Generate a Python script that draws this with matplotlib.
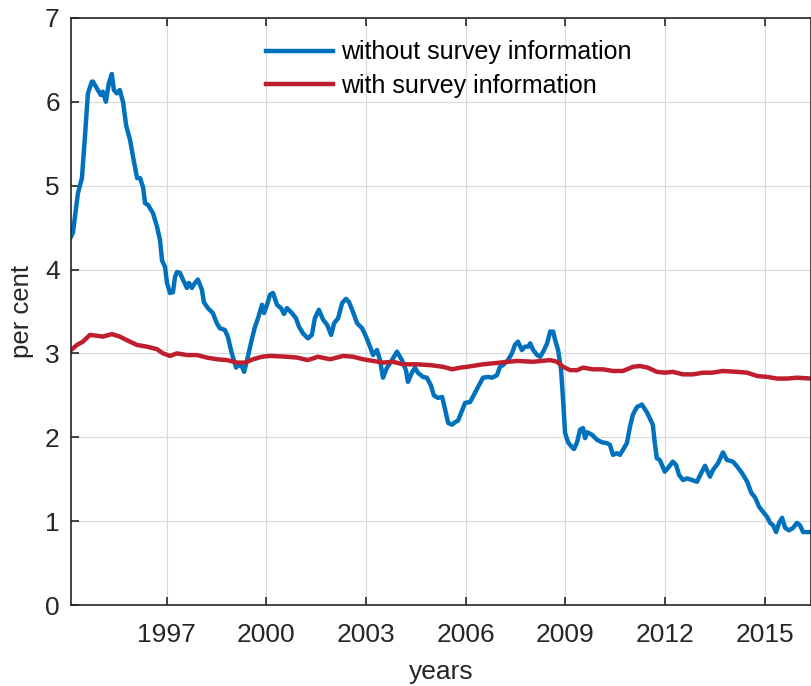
import numpy as np
import matplotlib.pyplot as plt

plt.rcParams['font.family'] = ['Liberation Sans', 'DejaVu Sans']

# without survey information
years_a = [1994.12, 1994.18, 1994.33, 1994.45, 1994.54, 1994.63, 1994.75, 1994.78, 1994.93, 1995.02,
           1995.08, 1995.17, 1995.26, 1995.35, 1995.41, 1995.50, 1995.59, 1995.69, 1995.78, 1995.90,
           1995.99, 1996.11, 1996.20, 1996.29, 1996.35, 1996.44, 1996.59, 1996.71, 1996.80, 1996.86,
           1996.95, 1997.01, 1997.10, 1997.19, 1997.25, 1997.31, 1997.40, 1997.49, 1997.61, 1997.67,
           1997.76, 1997.85, 1997.94, 1998.06, 1998.12, 1998.24, 1998.39, 1998.51, 1998.60, 1998.75,
           1998.84, 1998.96, 1999.09, 1999.15, 1999.27, 1999.33, 1999.42, 1999.57, 1999.66, 1999.75,
           1999.87, 1999.93, 2000.02, 2000.11, 2000.20, 2000.32, 2000.44, 2000.53, 2000.62, 2000.77,
           2000.89, 2000.98, 2001.10, 2001.25, 2001.37, 2001.46, 2001.58, 2001.71, 2001.83, 2001.95,
           2002.04, 2002.16, 2002.28, 2002.40, 2002.49, 2002.61, 2002.73, 2002.88, 2003.00, 2003.12,
           2003.21, 2003.33, 2003.42, 2003.51, 2003.63, 2003.75, 2003.93, 2004.08, 2004.20, 2004.26,
           2004.38, 2004.47, 2004.56, 2004.71, 2004.83, 2004.95, 2005.04, 2005.16, 2005.29, 2005.38,
           2005.47, 2005.59, 2005.68, 2005.77, 2005.98, 2006.13, 2006.28, 2006.37, 2006.52, 2006.67,
           2006.79, 2006.94, 2007.03, 2007.12, 2007.27, 2007.39, 2007.48, 2007.57, 2007.69, 2007.78,
           2007.88, 2007.94, 2008.03, 2008.15, 2008.24, 2008.33, 2008.45, 2008.54, 2008.63, 2008.69,
           2008.78, 2008.87, 2008.93, 2008.99, 2009.08, 2009.20, 2009.26, 2009.35, 2009.44, 2009.53,
           2009.59, 2009.65, 2009.80, 2009.95, 2010.10, 2010.25, 2010.34, 2010.43, 2010.55, 2010.64,
           2010.73, 2010.85, 2010.94, 2011.03, 2011.15, 2011.30, 2011.45, 2011.63, 2011.69, 2011.75,
           2011.84, 2011.99, 2012.08, 2012.23, 2012.33, 2012.42, 2012.54, 2012.66, 2012.81, 2012.96,
           2013.08, 2013.20, 2013.35, 2013.44, 2013.59, 2013.74, 2013.86, 2014.04, 2014.17, 2014.32,
           2014.47, 2014.59, 2014.71, 2014.83, 2014.95, 2015.07, 2015.16, 2015.25, 2015.34, 2015.43,
           2015.52, 2015.61, 2015.73, 2015.85, 2015.97, 2016.06, 2016.15, 2016.27, 2016.39]
without = [4.39, 4.44, 4.91, 5.09, 5.58, 6.10, 6.24, 6.24, 6.14, 6.08,
           6.12, 6.00, 6.22, 6.33, 6.14, 6.10, 6.14, 5.99, 5.72, 5.54,
           5.34, 5.09, 5.09, 4.98, 4.79, 4.77, 4.67, 4.51, 4.35, 4.11,
           4.03, 3.84, 3.72, 3.73, 3.91, 3.97, 3.96, 3.88, 3.78, 3.84,
           3.78, 3.84, 3.88, 3.76, 3.61, 3.54, 3.48, 3.36, 3.30, 3.28,
           3.20, 3.00, 2.83, 2.86, 2.84, 2.78, 2.92, 3.18, 3.32, 3.42,
           3.58, 3.48, 3.58, 3.70, 3.72, 3.58, 3.54, 3.47, 3.54, 3.48,
           3.42, 3.32, 3.24, 3.18, 3.22, 3.42, 3.52, 3.40, 3.34, 3.22,
           3.36, 3.42, 3.60, 3.65, 3.61, 3.49, 3.36, 3.30, 3.20, 3.08,
           2.98, 3.04, 2.92, 2.71, 2.83, 2.90, 3.02, 2.92, 2.80, 2.66,
           2.77, 2.83, 2.77, 2.72, 2.71, 2.62, 2.50, 2.47, 2.48, 2.33,
           2.17, 2.15, 2.18, 2.20, 2.41, 2.42, 2.53, 2.60, 2.71, 2.72,
           2.71, 2.74, 2.84, 2.86, 2.92, 3.00, 3.10, 3.14, 3.04, 3.08,
           3.08, 3.12, 3.04, 2.98, 2.96, 3.02, 3.12, 3.26, 3.26, 3.16,
           3.04, 2.80, 2.44, 2.05, 1.94, 1.88, 1.86, 1.94, 2.09, 2.11,
           1.99, 2.06, 2.03, 1.97, 1.94, 1.93, 1.91, 1.79, 1.81, 1.79,
           1.85, 1.93, 2.12, 2.27, 2.36, 2.39, 2.30, 2.15, 1.93, 1.75,
           1.73, 1.59, 1.63, 1.71, 1.67, 1.55, 1.49, 1.51, 1.49, 1.47,
           1.57, 1.66, 1.53, 1.61, 1.69, 1.82, 1.73, 1.71, 1.65, 1.57,
           1.47, 1.34, 1.28, 1.17, 1.11, 1.05, 0.98, 0.95, 0.87, 0.98,
           1.04, 0.92, 0.89, 0.92, 0.98, 0.95, 0.87, 0.87, 0.87]

# with survey information
years_b = [1994.12, 1994.30, 1994.48, 1994.69, 1994.90, 1995.08, 1995.35, 1995.59, 1995.84, 1996.11,
           1996.41, 1996.71, 1996.89, 1997.10, 1997.31, 1997.61, 1997.91, 1998.21, 1998.51, 1998.82,
           1999.12, 1999.36, 1999.60, 1999.87, 2000.11, 2000.62, 2000.92, 2001.25, 2001.55, 2001.92,
           2002.31, 2002.61, 2002.91, 2003.21, 2003.51, 2003.81, 2004.11, 2004.53, 2004.93, 2005.32,
           2005.59, 2005.83, 2006.04, 2006.52, 2007.03, 2007.54, 2008.03, 2008.54, 2008.75, 2008.93,
           2009.14, 2009.35, 2009.53, 2009.83, 2010.13, 2010.43, 2010.73, 2011.03, 2011.24, 2011.48,
           2011.75, 2011.99, 2012.23, 2012.54, 2012.84, 2013.14, 2013.41, 2013.74, 2014.17, 2014.47,
           2014.77, 2015.07, 2015.37, 2015.67, 2015.97, 2016.39]
with_survey = [3.04, 3.10, 3.14, 3.22, 3.21, 3.20, 3.23, 3.20, 3.15, 3.10,
               3.08, 3.05, 3.00, 2.97, 3.00, 2.98, 2.98, 2.95, 2.93, 2.92,
               2.89, 2.89, 2.93, 2.96, 2.97, 2.96, 2.95, 2.92, 2.96, 2.93,
               2.97, 2.96, 2.93, 2.91, 2.89, 2.90, 2.87, 2.87, 2.86, 2.84,
               2.81, 2.83, 2.84, 2.87, 2.89, 2.91, 2.90, 2.92, 2.90, 2.84,
               2.80, 2.80, 2.83, 2.81, 2.81, 2.79, 2.79, 2.84, 2.85, 2.83,
               2.78, 2.77, 2.78, 2.75, 2.75, 2.77, 2.77, 2.79, 2.78, 2.77,
               2.73, 2.72, 2.70, 2.70, 2.71, 2.70]

xticks = [1997, 2000, 2003, 2006, 2009, 2012, 2015]

fig = plt.figure(figsize=(8.11, 6.86), dpi=100)
ax = fig.add_axes([0.0875, 0.118, 0.9125, 0.856])

ax.plot(years_a, without, color='#0072BD', lw=3.2, label='without survey information')
ax.plot(years_b, with_survey, color='#BE1E2D', lw=3.2, label='with survey information')

ax.set_xlim(1994.12, 2016.39)
ax.set_ylim(0, 7)
ax.set_xticks(xticks)
ax.set_yticks(range(0, 8))
ax.grid(True, color='#d9d9d9', lw=0.8)
ax.set_axisbelow(True)
ax.tick_params(direction='in', top=True, length=6, width=1.2, labelsize=19,
               colors='#262626', pad=8)
ax.tick_params(axis='x', pad=13)
for s in ax.spines.values():
    s.set_color('#262626')
    s.set_linewidth(1.2)

ax.set_xlabel('years', fontsize=19, color='#262626', labelpad=9)
ax.set_ylabel('per cent', fontsize=18.5, color='#262626', labelpad=8)

leg = ax.legend(loc='upper left', bbox_to_anchor=(0.233, 1.0), frameon=False,
                fontsize=18, handlelength=2.7, labelspacing=0.38, handletextpad=0.3)

fig.savefig('out.png', dpi=100)
